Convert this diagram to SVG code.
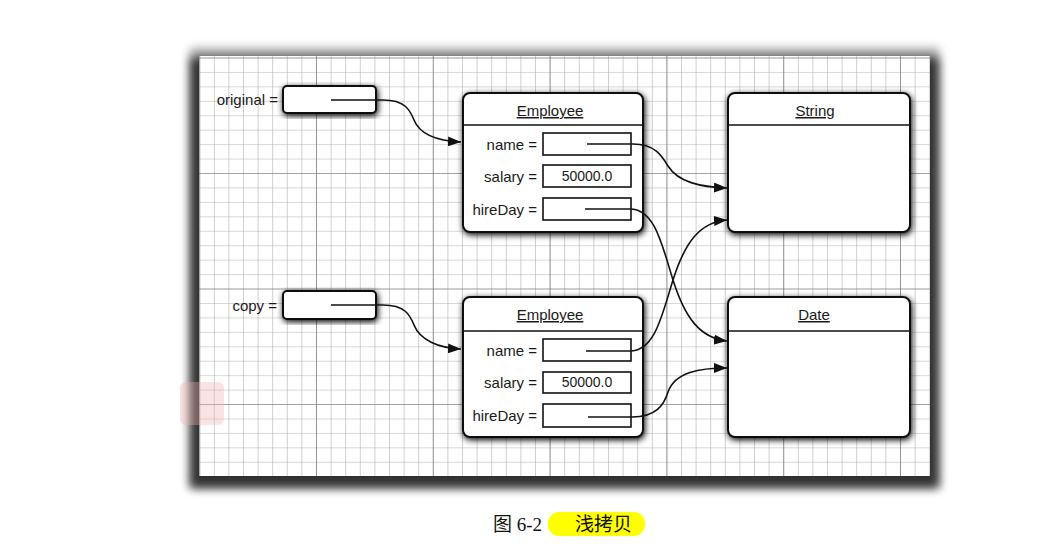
<svg xmlns="http://www.w3.org/2000/svg" width="1059" height="547" viewBox="0 0 1059 547">
<defs>
<pattern id="minor" patternUnits="userSpaceOnUse" x="199.2" y="57.5" width="14.6" height="14.44">
<path d="M0,0 V14.44 M0,0 H14.6" stroke="#b0b0b0" stroke-width="1.2" fill="none"/>
</pattern>
<pattern id="major" patternUnits="userSpaceOnUse" x="199.2" y="57.5" width="116.8" height="115.5">
<path d="M0,0 V115.5 M0,0 H116.8" stroke="#6e6e6e" stroke-width="1.2" fill="none"/>
</pattern>
<filter id="panelShadow" x="-10%" y="-10%" width="120%" height="120%">
<feGaussianBlur stdDeviation="5"/>
</filter>
<filter id="nodeShadow" x="-20%" y="-20%" width="140%" height="140%">
<feGaussianBlur in="SourceAlpha" stdDeviation="3.2" result="b"/>
<feOffset in="b" dx="1" dy="2" result="o"/>
<feComponentTransfer in="o" result="s"><feFuncA type="linear" slope="1"/></feComponentTransfer>
<feMerge><feMergeNode in="s"/><feMergeNode in="SourceGraphic"/></feMerge>
</filter>
<marker id="arrow" markerUnits="userSpaceOnUse" markerWidth="14" markerHeight="10" refX="13" refY="5" orient="auto">
<path d="M0,0 L13,5 L0,10 Z" fill="#111"/>
</marker>
</defs>
<style>
.box{fill:#fff;stroke:#111;stroke-width:2}
.field{fill:#fff;stroke:#111;stroke-width:1.6}
.div{stroke:#111;stroke-width:1.5}
.lbl{font-family:"Liberation Sans",Arial,sans-serif;font-size:15px;fill:#1a1a1a}
.val{font-family:"Liberation Sans",Arial,sans-serif;font-size:14px;fill:#1a1a1a}
.ttl{font-family:"Liberation Sans",Arial,sans-serif;font-size:15px;fill:#1a1a1a;text-decoration:underline}
.ptr{fill:none;stroke:#111;stroke-width:1.6}
.cap{font-family:"Liberation Serif","Noto Sans CJK SC",serif;font-size:19px;fill:#111}
</style>
<rect width="1059" height="547" fill="#fff"/>
<!-- panel -->
<g id="panel">
<rect x="190" y="48" width="749" height="440" fill="#000" opacity="0.35" filter="url(#panelShadow)"/>
<rect x="190" y="58" width="749" height="430" fill="#000" opacity="0.7" filter="url(#panelShadow)"/>
<rect x="199" y="56" width="731" height="420" fill="#fff"/>
<rect x="199" y="56" width="731" height="420" fill="url(#minor)"/>
<rect x="199" y="56" width="731" height="420" fill="url(#major)"/>
</g>
<rect x="180" y="382" width="44" height="43" rx="6" fill="#f2b0b0" opacity="0.35"/>
<!-- variables -->
<g id="original">
<text class="lbl" x="278" y="105" text-anchor="end">original =</text>
<rect class="box" x="283" y="86" width="93" height="27" rx="4" filter="url(#nodeShadow)"/>
</g>
<g id="copy">
<text class="lbl" x="277" y="311" text-anchor="end">copy =</text>
<rect class="box" x="283" y="291" width="93" height="28" rx="4" filter="url(#nodeShadow)"/>
</g>
<!-- Employee 1 -->
<g id="employee1">
<rect class="box" x="463" y="93" width="180" height="139" rx="7" filter="url(#nodeShadow)"/>
<line class="div" x1="463" y1="125" x2="643" y2="125"/>
<text class="ttl" x="550" y="116" text-anchor="middle">Employee</text>
<text class="lbl" x="537" y="150" text-anchor="end">name =</text>
<rect class="field" x="543" y="133" width="88" height="22"/>
<text class="lbl" x="537" y="182" text-anchor="end">salary =</text>
<rect class="field" x="543" y="165" width="88" height="22"/>
<text class="val" x="587" y="181" text-anchor="middle">50000.0</text>
<text class="lbl" x="537" y="215" text-anchor="end">hireDay =</text>
<rect class="field" x="543" y="198" width="88" height="22"/>
</g>
<!-- Employee 2 -->
<g id="employee2">
<rect class="box" x="463" y="297" width="180" height="140" rx="7" filter="url(#nodeShadow)"/>
<line class="div" x1="463" y1="331" x2="643" y2="331"/>
<text class="ttl" x="550" y="320" text-anchor="middle">Employee</text>
<text class="lbl" x="537" y="356" text-anchor="end">name =</text>
<rect class="field" x="543" y="339" width="88" height="22"/>
<text class="lbl" x="537" y="388" text-anchor="end">salary =</text>
<rect class="field" x="543" y="372" width="88" height="21"/>
<text class="val" x="587" y="387" text-anchor="middle">50000.0</text>
<text class="lbl" x="537" y="421" text-anchor="end">hireDay =</text>
<rect class="field" x="543" y="404" width="88" height="23"/>
</g>
<!-- String -->
<g id="string">
<rect class="box" x="728" y="93" width="182" height="139" rx="7" filter="url(#nodeShadow)"/>
<line class="div" x1="728" y1="125" x2="910" y2="125"/>
<text class="ttl" x="815" y="116" text-anchor="middle">String</text>
</g>
<!-- Date -->
<g id="date">
<rect class="box" x="728" y="297" width="182" height="140" rx="7" filter="url(#nodeShadow)"/>
<line class="div" x1="728" y1="331" x2="910" y2="331"/>
<text class="ttl" x="814" y="320" text-anchor="middle">Date</text>
</g>
<!-- connectors -->
<g id="connectors">
<path class="ptr" marker-end="url(#arrow)" d="M331,100 H383 C405,100 410,110 414,120 C420,135 438,141 461,142"/>
<path class="ptr" marker-end="url(#arrow)" d="M331,305 H383 C405,305 410,315 414,325 C420,340 438,348 461,349"/>
<path class="ptr" marker-end="url(#arrow)" d="M587,144 H633 C655,144 662,156 668,166 C678,182 700,187 727,188"/>
<path class="ptr" marker-end="url(#arrow)" d="M585,209 H630 C655,209 662,245 673,280 C685,318 700,338 727,341"/>
<path class="ptr" marker-end="url(#arrow)" d="M586,351 H630 C655,351 662,315 673,280 C685,242 700,222 727,220"/>
<path class="ptr" marker-end="url(#arrow)" d="M588,417 H632 C656,417 664,405 668,392 C675,372 700,368 727,368"/>
</g>
<!-- caption -->
<g id="caption">
<rect x="548" y="512" width="97" height="24" rx="11" fill="#ffff00"/>
<text class="cap" x="493" y="531">图 6-2</text>
<text class="cap" x="575" y="531">浅拷贝</text>
</g>
</svg>
